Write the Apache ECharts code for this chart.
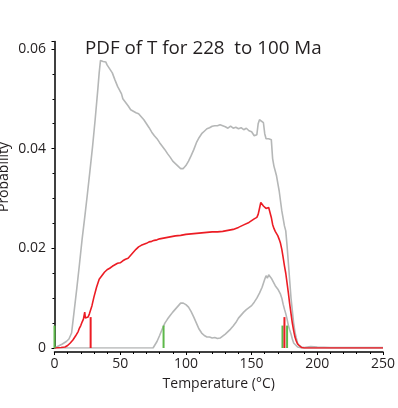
<!DOCTYPE html>
<html>
<head>
<meta charset="utf-8">
<script src="https://cdn.jsdelivr.net/npm/echarts@6/dist/echarts.min.js"></script>
<style>
html,body{margin:0;padding:0;background:#fff;}
#chart{width:398px;height:408px;}
</style>
</head>
<body>
<div id="chart"></div>
<script>
// ---- Data ----
var titleText = 'PDF of T for 228  to 100 Ma';
var xTicks = [0, 50, 100, 150, 200, 250];
var yTicks = [0, 0.02, 0.04, 0.06];

// Upper grey envelope [T, P]
var upperGrey = [
 [0,0.0000],[3,0.0004],[6,0.0008],[9,0.0013],[11,0.0018],[12,0.0021],[13,0.0030],[15,0.0075],
 [17,0.0120],[19,0.0168],[21,0.0218],[23,0.0262],[25,0.0308],[27,0.0356],[29,0.0405],[31,0.0460],
 [33,0.0520],[34,0.0552],[35,0.0577],[36,0.0580],[37,0.0575],[38,0.0578],[39,0.0574],[40,0.0568],
 [41,0.0569],[42,0.0560],[44,0.0552],[46,0.0538],[47,0.0535],[48,0.0525],[50,0.0515],[51,0.0510],
 [52,0.0500],[54,0.0493],[56,0.0486],[57,0.0488],[58,0.0478],[60,0.0475],[62,0.0472],[64,0.0470],
 [66,0.0464],[68,0.0458],[70,0.0450],[72,0.0442],[74,0.0433],[76,0.0426],[78,0.0420],[80,0.0412],
 [82,0.0405],[84,0.0398],[86,0.0390],[88,0.0383],[90,0.0375],[92,0.0370],[94,0.0365],[96,0.0360],
 [97,0.0358],[98,0.0360],[100,0.0366],[102,0.0375],[104,0.0386],[106,0.0398],[108,0.0412],[110,0.0422],
 [112,0.0430],[114,0.0435],[116,0.0440],[118,0.0442],[120,0.0445],[122,0.0446],[123,0.0450],[124,0.0446],
 [126,0.0448],[127,0.0451],[128,0.0446],[130,0.0444],[132,0.0441],[134,0.0445],[136,0.0441],[138,0.0443],
 [140,0.0440],[142,0.0442],[144,0.0438],[146,0.0441],[148,0.0436],[150,0.0434],[152,0.0426],[153,0.0423],
 [154,0.0428],[155,0.0450],[156,0.0458],[157.5,0.0459],[159,0.0452],[160,0.0430],[161,0.0420],[163,0.0420],
 [165,0.0418],[166,0.0380],[167,0.0365],[168,0.0355],[169,0.0345],[170,0.0330],[171,0.0315],[172,0.0295],
 [173,0.0275],[174,0.0260],[175,0.0245],[176,0.0235],[177,0.0205],[178,0.0170],[179,0.0135],[180,0.0100],
 [181,0.0075],[182,0.0050],[183,0.0032],[184,0.0020],[185,0.0010],[186,0.0005],[188,0.0002],[190,0.0001],
 [195,0.0003],[200,0.0002],[210,0.0001],[220,0.0001],[250,0.0001]
];

// Red mean curve [T, P]
var redCurve = [
 [0,0],[5,0.0001],[8,0.0002],[10,0.0005],[12,0.0010],[14,0.0016],[16,0.0024],[18,0.0033],[19,0.0040],
 [20,0.0045],[21,0.0052],[22,0.0058],[23,0.0072],[23.5,0.0060],[24.5,0.0056],[25.5,0.0062],[26.5,0.0068],
 [27.5,0.0072],[28.5,0.0085],[30,0.0102],[32,0.0122],[34,0.0138],[36,0.0145],[38,0.0152],[40,0.0157],
 [42,0.0160],[44,0.0164],[46,0.0167],[48,0.0170],[50,0.0171],[52,0.0175],[54,0.0178],[56,0.0180],
 [58,0.0186],[60,0.0192],[62,0.0198],[64,0.0203],[66,0.0206],[68,0.0208],[70,0.0210],[72,0.0213],
 [74,0.0214],[76,0.0216],[78,0.0217],[80,0.0219],[84,0.0221],[88,0.0223],[92,0.0225],[96,0.0226],
 [100,0.0228],[104,0.0229],[108,0.0230],[112,0.0231],[116,0.0232],[120,0.0233],[124,0.0233],[128,0.0234],
 [132,0.0236],[136,0.0238],[140,0.0242],[144,0.0247],[148,0.0252],[152,0.0259],[154,0.0262],[155,0.0268],
 [156,0.0280],[157,0.0292],[158,0.0290],[159,0.0285],[160,0.0287],[161,0.0280],[163,0.0282],[164,0.0283],
 [165,0.0262],[166,0.0248],[167,0.0240],[168,0.0234],[169,0.0232],[170,0.0225],[171,0.0218],[172,0.0210],
 [173,0.0198],[174,0.0182],[175,0.0165],[176,0.0150],[177,0.0130],[178,0.0110],[179,0.0088],[180,0.0069],
 [181,0.0050],[182,0.0035],[183,0.0022],[184,0.0014],[185,0.0008],[186,0.0004],[188,0.0001],[190,0],[250,0]
];

// Lower grey envelope [T, P]
var lowerGrey = [
 [0,0],[75,0],[76,0.0004],[78,0.0013],[80,0.0025],[82,0.0038],[84,0.0050],[86,0.0058],[88,0.0065],
 [90,0.0072],[92,0.0078],[94,0.0084],[96,0.0090],[97,0.0093],[98,0.0090],[100,0.0087],[102,0.0082],
 [104,0.0073],[106,0.0062],[108,0.0050],[110,0.0038],[112,0.0030],[114,0.0025],[116,0.0022],[118,0.0022],
 [120,0.0020],[122,0.0021],[124,0.0019],[126,0.0020],[128,0.0024],[130,0.0028],[132,0.0033],[134,0.0038],
 [136,0.0044],[138,0.0051],[140,0.0060],[142,0.0066],[144,0.0072],[146,0.0077],[148,0.0081],[150,0.0085],
 [152,0.0092],[154,0.0100],[156,0.0110],[158,0.0122],[160,0.0138],[161,0.0145],[162,0.0140],[163,0.0147],
 [164,0.0148],[165,0.0140],[166,0.0135],[168,0.0125],[170,0.0118],[172,0.0108],[173,0.0100],[174,0.0088],
 [175,0.0078],[176,0.0069],[177,0.0058],[178,0.0045],[179,0.0036],[180,0.0028],[181,0.0018],[182,0.0010],
 [183,0.0006],[185,0.0002],[188,0],[250,0]
];

// Vertical marker sticks [T, height]
var greenMarks = [[0,0.0045],[83,0.0045],[173.5,0.0045],[177,0.0045]];
var redMarks = [[27.5,0.0062],[175,0.0062]];

// ---- Chart ----
var chart = echarts.init(document.getElementById('chart'), null, {renderer:'canvas'});
var FONT = '"Open Sans", "Noto Sans", sans-serif';

function stick(color) {
  return function(params, api) {
    var p0 = api.coord([api.value(0), 0]);
    var p1 = api.coord([api.value(0), api.value(1)]);
    return {type:'line', shape:{x1:p0[0], y1:p0[1], x2:p1[0], y2:p1[1]},
      style:{stroke:color, lineWidth:2}};
  };
}

var option = {
  backgroundColor: '#ffffff',
  animation: false,
  title: {
    text: titleText, left: 80, top: 34,
    textStyle: {fontFamily: FONT, fontSize: 18.8, fontWeight: 'normal', color: '#231f20'}
  },
  grid: {left: 54.5, right: 6.3, top: 41.5, bottom: 60},
  xAxis: {
    type: 'value', min: 0, max: 250, interval: 50, offset: 4,
    axisLine: {show: true, onZero: false, lineStyle: {color: '#000', width: 1.5}},
    axisTick: {show: true, length: 3, inside: false, lineStyle: {color:'#000'}},
    minorTick: {show: true, splitNumber: 5, length: 2, lineStyle:{color:'#000'}},
    splitLine: {show: false},
    axisLabel: {fontFamily: FONT, fontSize: 14, color: '#231f20', margin: 5},
    name: 'Temperature (\u00B0C)', nameLocation: 'middle', nameGap: 25,
    nameTextStyle: {fontFamily: FONT, fontSize: 14, color: '#231f20'}
  },
  yAxis: {
    type: 'value', min: 0, max: 0.0615, interval: 0.02, offset: 2.5,
    axisLine: {show: true, lineStyle: {color: '#000', width: 1.5}},
    axisTick: {show: true, length: 3, lineStyle:{color:'#000'}},
    minorTick: {show: true, splitNumber: 4, length: 2, lineStyle:{color:'#000'}},
    splitLine: {show: false},
    axisLabel: {fontFamily: FONT, fontSize: 14, color: '#231f20', margin: 6, showMaxLabel: false,
      formatter: function(v){ return v === 0 ? '0' : v.toFixed(2); }}
  },
  graphic: [{
    type: 'text', x: 4, y: 177, rotation: Math.PI/2,
    style: {text: 'Probability', fill: '#231f20', font: '14px "Open Sans", "Noto Sans", sans-serif',
      align: 'center', verticalAlign: 'middle'}
  }],
  series: [
    {type:'line', data: lowerGrey, showSymbol:false, symbol:'none', lineStyle:{color:'#b5b7b7', width:1.6}, z:2},
    {type:'line', data: upperGrey, showSymbol:false, symbol:'none', lineStyle:{color:'#b5b7b7', width:1.6}, z:2},
    {type:'line', data: redCurve, showSymbol:false, symbol:'none', lineStyle:{color:'#ec1c24', width:1.6}, z:3},
    {type:'custom', data: greenMarks, renderItem: stick('#5db84a'), z:4},
    {type:'custom', data: redMarks, renderItem: stick('#ec1c24'), z:5}
  ]
};
chart.setOption(option);
</script>
</body>
</html>
